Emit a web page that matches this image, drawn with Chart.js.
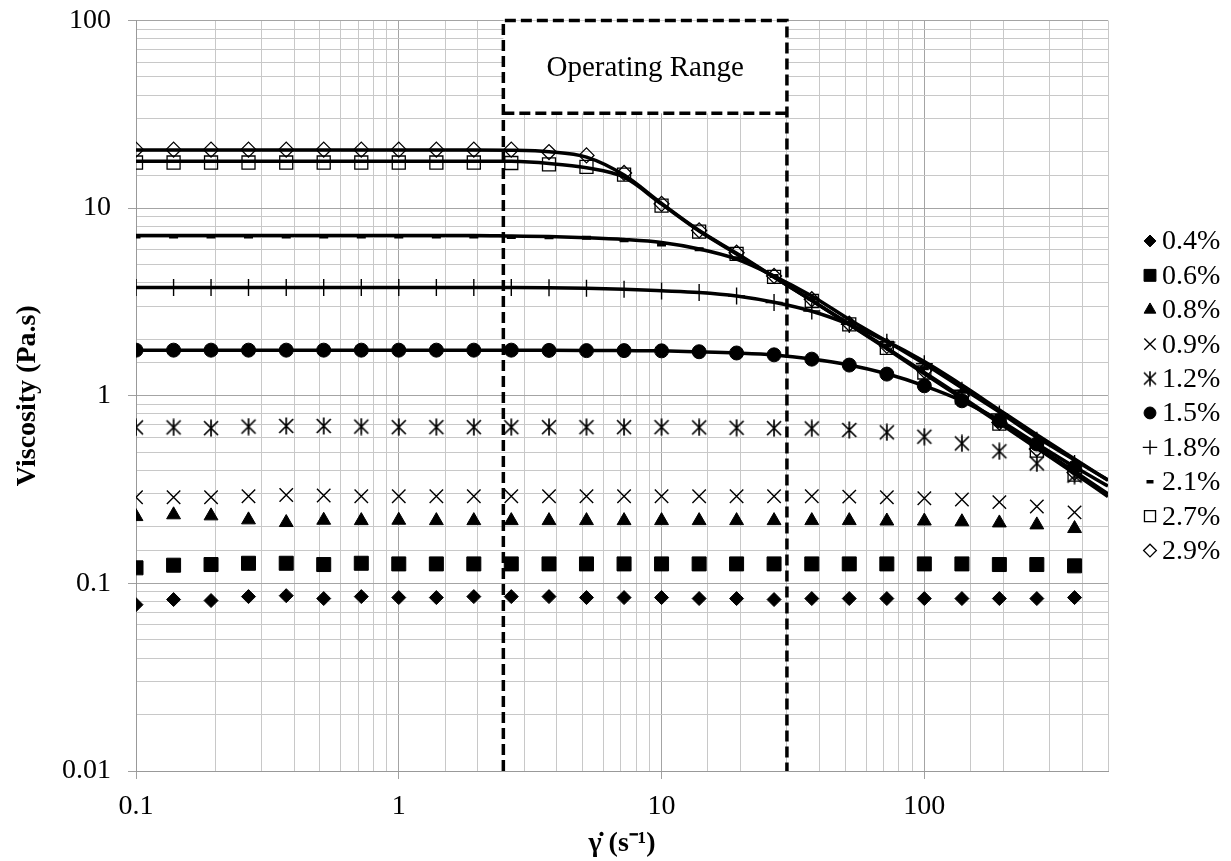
<!DOCTYPE html>
<html>
<head>
<meta charset="utf-8">
<script src="https://cdn.jsdelivr.net/npm/chart.js@4/dist/chart.umd.min.js"></script>
<style>
  html, body { margin: 0; padding: 0; background: #fff; }
  #wrap { width: 1231px; height: 861px; }
</style>
</head>
<body>
<div id="wrap"><canvas id="c" width="1231" height="861"></canvas></div>
<script>
// Shear rates of the measured points (s^-1), 7 points per decade
const shearRate = [0.1, 0.139, 0.193, 0.268, 0.373, 0.518, 0.72, 1, 1.39, 1.93,
  2.68, 3.73, 5.18, 7.2, 10, 13.9, 19.3, 26.8, 37.3, 51.8, 72, 100, 139, 193, 268, 373];
// Shear rates for the fitted model curves (run to the axis end)
const fitShearRate = [0.1, 0.139, 0.193, 0.268, 0.373, 0.518, 0.72, 1, 1.39, 1.93,
  2.68, 3.73, 5.18, 7.2, 10, 13.9, 19.3, 26.8, 37.3, 51.8, 72, 100, 139, 193, 268, 373, 500];

const concentrations = ['0.4%', '0.6%', '0.8%', '0.9%', '1.2%', '1.5%', '1.8%', '2.1%', '2.7%', '2.9%'];

// Measured viscosity (Pa.s)
const eta04 = [0.077, 0.082, 0.081, 0.085, 0.086, 0.083, 0.085, 0.084, 0.084, 0.085, 0.085, 0.085, 0.084,
  0.084, 0.084, 0.083, 0.083, 0.082, 0.083, 0.083, 0.083, 0.083, 0.083, 0.083, 0.083, 0.084];
const eta06 = [0.121, 0.125, 0.126, 0.128, 0.128, 0.126, 0.128, 0.127, 0.127, 0.127, 0.127, 0.127, 0.127,
  0.127, 0.127, 0.127, 0.127, 0.127, 0.127, 0.127, 0.127, 0.127, 0.127, 0.126, 0.126, 0.124];
const eta08 = [0.227, 0.232, 0.229, 0.218, 0.211, 0.217, 0.216, 0.217, 0.216, 0.216, 0.216, 0.216, 0.216,
  0.216, 0.216, 0.216, 0.216, 0.216, 0.216, 0.216, 0.215, 0.215, 0.213, 0.210, 0.205, 0.196];
const eta09 = [0.288, 0.288, 0.288, 0.291, 0.296, 0.294, 0.291, 0.291, 0.291, 0.291, 0.291, 0.291, 0.291,
  0.291, 0.291, 0.291, 0.291, 0.291, 0.291, 0.290, 0.288, 0.284, 0.280, 0.271, 0.257, 0.239];
const eta12 = [0.678, 0.678, 0.672, 0.685, 0.69, 0.69, 0.685, 0.68, 0.68, 0.68, 0.68, 0.68, 0.68,
  0.68, 0.68, 0.678, 0.675, 0.672, 0.67, 0.657, 0.638, 0.605, 0.557, 0.506, 0.436, 0.375];
const eta15 = [1.75, 1.75, 1.75, 1.75, 1.75, 1.75, 1.75, 1.75, 1.75, 1.75, 1.75, 1.745, 1.74,
  1.74, 1.735, 1.716, 1.69, 1.652, 1.567, 1.457, 1.304, 1.13, 0.94, 0.736, 0.553, 0.416];
const eta18 = [3.77, 3.77, 3.77, 3.77, 3.77, 3.77, 3.77, 3.77, 3.77, 3.77, 3.77, 3.76, 3.74,
  3.70, 3.62, 3.55, 3.40, 3.14, 2.83, 2.40, 1.93, 1.48, 1.07, 0.80, 0.58, 0.435];
const eta21 = [7.05, 7.05, 7.05, 7.05, 7.05, 7.05, 7.05, 7.05, 7.05, 7.05, 7.02, 7.0, 6.95,
  6.75, 6.4, 6.03, 5.4, 4.35, 3.3, 2.45, 1.85, 1.4, 1.05, 0.78, 0.57, 0.43];
const eta27 = [17.5, 17.5, 17.5, 17.5, 17.5, 17.5, 17.5, 17.5, 17.5, 17.5, 17.4, 17.1, 16.6,
  15.1, 10.3, 7.5, 5.7, 4.3, 3.2, 2.4, 1.8, 1.33, 0.98, 0.71, 0.51, 0.38];
const eta29 = [20.5, 20.5, 20.5, 20.5, 20.5, 20.5, 20.5, 20.5, 20.5, 20.5, 20.5, 19.9, 19.1,
  15.4, 10.54, 7.61, 5.78, 4.35, 3.27, 2.42, 1.845, 1.36, 1.0, 0.72, 0.52, 0.39];

// Fitted model curves (Pa.s) on fitShearRate
const fit15 = [1.75, 1.75, 1.75, 1.75, 1.75, 1.75, 1.75, 1.75, 1.75, 1.75, 1.75, 1.748, 1.745,
  1.74, 1.735, 1.715, 1.69, 1.65, 1.57, 1.46, 1.31, 1.13, 0.94, 0.74, 0.555, 0.418, 0.33];
const fit18 = [3.77, 3.77, 3.77, 3.77, 3.77, 3.77, 3.77, 3.77, 3.77, 3.77, 3.77, 3.76, 3.74,
  3.70, 3.63, 3.55, 3.40, 3.15, 2.82, 2.40, 1.95, 1.52, 1.14, 0.84, 0.62, 0.46, 0.355];
const fit21 = [7.15, 7.15, 7.15, 7.15, 7.15, 7.15, 7.15, 7.15, 7.15, 7.15, 7.1, 7.05, 6.95,
  6.8, 6.55, 6.05, 5.35, 4.35, 3.4, 2.55, 1.95, 1.48, 1.1, 0.82, 0.6, 0.455, 0.355];
const fit27 = [17.8, 17.8, 17.8, 17.8, 17.8, 17.8, 17.8, 17.8, 17.8, 17.8, 17.75, 17.3, 16.4,
  14.6, 10.5, 7.55, 5.7, 4.28, 3.22, 2.41, 1.8, 1.33, 0.985, 0.725, 0.535, 0.395, 0.30];
const fit29 = [20.4, 20.4, 20.4, 20.4, 20.4, 20.4, 20.4, 20.4, 20.4, 20.4, 20.35, 20.0, 18.7,
  15.0, 10.6, 7.6, 5.75, 4.3, 3.22, 2.4, 1.78, 1.31, 0.97, 0.715, 0.525, 0.385, 0.29];

// Operating range window: shear rate span and lower viscosity edge of the label box
const operatingRange = [2.5, 30];
const rangeBoxBottom = 32;

const xTickLabels = ['0.1', '1', '10', '100'];
const yTickLabels = ['0.01', '0.1', '1', '10', '100'];

const SERIF = "'Times New Roman', 'Liberation Serif', serif";

// 6-armed asterisk marker
function makeAsterisk(size, lw) {
  const c = document.createElement('canvas');
  c.width = size; c.height = size;
  const g = c.getContext('2d');
  const m = size / 2, a = size / 2 - 2;
  g.strokeStyle = '#000';
  g.lineWidth = lw;
  g.beginPath();
  g.moveTo(m - a, m - a); g.lineTo(m + a, m + a);
  g.moveTo(m + a, m - a); g.lineTo(m - a, m + a);
  g.moveTo(m, m - a - 1.5); g.lineTo(m, m + a + 1.5);
  g.stroke();
  return c;
}
const asteriskMark = makeAsterisk(18, 1.7);
const asteriskLegend = makeAsterisk(16, 1.6);

const pts = (xs, ys) => xs.map((x, i) => ({x, y: ys[i]}));

const markerStyles = [
  {pointStyle: 'rectRot', radius: 7, fill: '#000', bw: 1},
  {pointStyle: 'rect', radius: 9.9, fill: '#000', bw: 1},
  {pointStyle: 'triangle', radius: 8, fill: '#000', bw: 1},
  {pointStyle: 'crossRot', radius: 9.5, fill: '#000', bw: 1.4},
  {pointStyle: asteriskMark, radius: 8, fill: '#000', bw: 1.4, legendStyle: asteriskLegend},
  {pointStyle: 'circle', radius: 7, fill: '#000', bw: 1},
  {pointStyle: 'cross', radius: 8.5, fill: '#000', bw: 1.4},
  {pointStyle: 'line', radius: 4.5, fill: '#000', bw: 4, legendRadius: 3.5, legendBw: 3.5},
  {pointStyle: 'rect', radius: 9.2, fill: 'rgba(0,0,0,0)', bw: 1.3},
  {pointStyle: 'rectRot', radius: 7.5, fill: 'rgba(0,0,0,0)', bw: 1.3}
];
const measured = [eta04, eta06, eta08, eta09, eta12, eta15, eta18, eta21, eta27, eta29];
const fits = [fit15, fit18, fit21, fit27, fit29];

const datasets = [];
fits.forEach(f => {
  datasets.push({
    label: 'fit',
    isFit: true,
    data: pts(fitShearRate, f),
    showLine: true,
    borderColor: '#000',
    borderWidth: 3.5,
    pointRadius: 0,
    pointHoverRadius: 0,
    cubicInterpolationMode: 'monotone',
    fill: false
  });
});
measured.forEach((vals, i) => {
  const s = markerStyles[i];
  datasets.push({
    label: concentrations[i],
    data: pts(shearRate, vals),
    showLine: false,
    pointStyle: s.pointStyle,
    pointRadius: s.radius,
    pointHoverRadius: s.radius,
    pointBackgroundColor: s.fill,
    pointBorderColor: '#000',
    pointBorderWidth: s.bw,
    markerStyle: s
  });
});

const isDecade = v => Math.abs(Math.log10(v) - Math.round(Math.log10(v))) < 1e-6;
const gridColor = ctx => (ctx.tick && isDecade(ctx.tick.value)) ? '#a4a4a4' : '#c8c8c8';
const tickColor = ctx => (ctx.tick && isDecade(ctx.tick.value)) ? '#a0a0a0' : 'rgba(0,0,0,0)';

function decadeLabel(labels) {
  return function (value) {
    if (!isDecade(value)) return '';
    const s = String(Number(value.toPrecision(3)));
    return labels.includes(s) ? s : '';
  };
}

// White label box and dashed outline of the operating range
const operatingRangePlugin = {
  id: 'operatingRange',
  beforeDatasetsDraw(chart) {
    const {ctx, scales: {x, y}} = chart;
    const x0 = x.getPixelForValue(operatingRange[0]);
    const x1 = x.getPixelForValue(operatingRange[1]);
    const yTop = y.getPixelForValue(y.max);
    const yB = y.getPixelForValue(rangeBoxBottom);
    ctx.save();
    ctx.fillStyle = '#fff';
    ctx.fillRect(x0, yTop, x1 - x0, yB - yTop);
    ctx.restore();
  },
  afterDatasetsDraw(chart) {
    const {ctx, scales: {x, y}} = chart;
    const x0 = x.getPixelForValue(operatingRange[0]);
    const x1 = x.getPixelForValue(operatingRange[1]);
    const yTop = y.getPixelForValue(y.max);
    const yBot = y.getPixelForValue(y.min);
    const yB = y.getPixelForValue(rangeBoxBottom);
    ctx.save();
    ctx.strokeStyle = '#000';
    ctx.lineWidth = 3.5;
    ctx.setLineDash([11, 5]);
    ctx.beginPath();
    ctx.moveTo(x0, yBot); ctx.lineTo(x0, yTop);
    ctx.lineTo(x1, yTop); ctx.lineTo(x1, yBot);
    ctx.moveTo(x0, yB); ctx.lineTo(x1, yB);
    ctx.stroke();
    ctx.setLineDash([]);
    ctx.fillStyle = '#000';
    ctx.font = '29px ' + SERIF;
    ctx.textAlign = 'center';
    ctx.textBaseline = 'middle';
    const xm = x.getPixelForValue(Math.sqrt(operatingRange[0] * operatingRange[1]));
    ctx.fillText('Operating Range', xm, (yTop + yB) / 2 + 1);
    ctx.restore();
  }
};

// Legend column to the right of the plot, drawn with each series' own marker
const markerLegendPlugin = {
  id: 'markerLegend',
  afterDraw(chart) {
    const {ctx, chartArea} = chart;
    const rows = chart.data.datasets.filter(d => !d.isFit);
    const step = 34.4;
    const cy = (chartArea.top + chartArea.bottom) / 2;
    const mx = chartArea.right + 42;
    ctx.save();
    ctx.font = '28px ' + SERIF;
    ctx.textAlign = 'left';
    ctx.textBaseline = 'middle';
    rows.forEach((d, i) => {
      const yy = cy + (i - (rows.length - 1) / 2) * step;
      const s = d.markerStyle;
      ctx.fillStyle = s.fill;
      ctx.strokeStyle = '#000';
      ctx.lineWidth = s.legendBw || s.bw;
      Chart.helpers.drawPoint(ctx, {
        pointStyle: s.legendStyle || s.pointStyle,
        radius: s.legendRadius || s.radius * 0.85,
        borderWidth: s.legendBw || s.bw,
        rotation: 0
      }, mx, yy);
      ctx.fillStyle = '#000';
      ctx.fillText(d.label, mx + 12, yy + 1);
    });
    ctx.restore();
  }
};

new Chart(document.getElementById('c'), {
  type: 'scatter',
  data: {datasets},
  options: {
    responsive: false,
    animation: false,
    devicePixelRatio: 1,
    layout: {padding: {top: 0, right: 123, left: 0, bottom: 0}},
    plugins: {legend: {display: false}, tooltip: {enabled: false}},
    scales: {
      x: {
        type: 'logarithmic',
        min: 0.1,
        max: 500,
        afterFit: s => { s.height = 90; },
        border: {color: '#999', width: 1},
        grid: {color: gridColor, lineWidth: 1, tickColor: tickColor, tickLength: 8, drawTicks: true},
        ticks: {
          autoSkip: false, maxRotation: 0, padding: 11, color: '#000',
          font: {family: SERIF, size: 28},
          callback: decadeLabel(xTickLabels)
        },
        title: {
          display: true, text: 'γ\u0307 (s\u207B\u00B9)', color: '#000',
          font: {family: SERIF, size: 28, weight: 'bold'}, padding: {top: 0, bottom: 0}
        }
      },
      y: {
        type: 'logarithmic',
        min: 0.01,
        max: 100,
        afterFit: s => { s.width = 136; },
        border: {color: '#999', width: 1},
        grid: {color: gridColor, lineWidth: 1, tickColor: tickColor, tickLength: 8, drawTicks: true},
        ticks: {
          autoSkip: false, padding: 17, color: '#000',
          font: {family: SERIF, size: 28, lineHeight: 0.25},
          callback: decadeLabel(yTickLabels)
        },
        title: {
          display: true, text: 'Viscosity (Pa.s)', color: '#000',
          font: {family: SERIF, size: 28, weight: 'bold'}, padding: {top: 11, bottom: 0}
        }
      }
    }
  },
  plugins: [operatingRangePlugin, markerLegendPlugin]
});
</script>
</body>
</html>
